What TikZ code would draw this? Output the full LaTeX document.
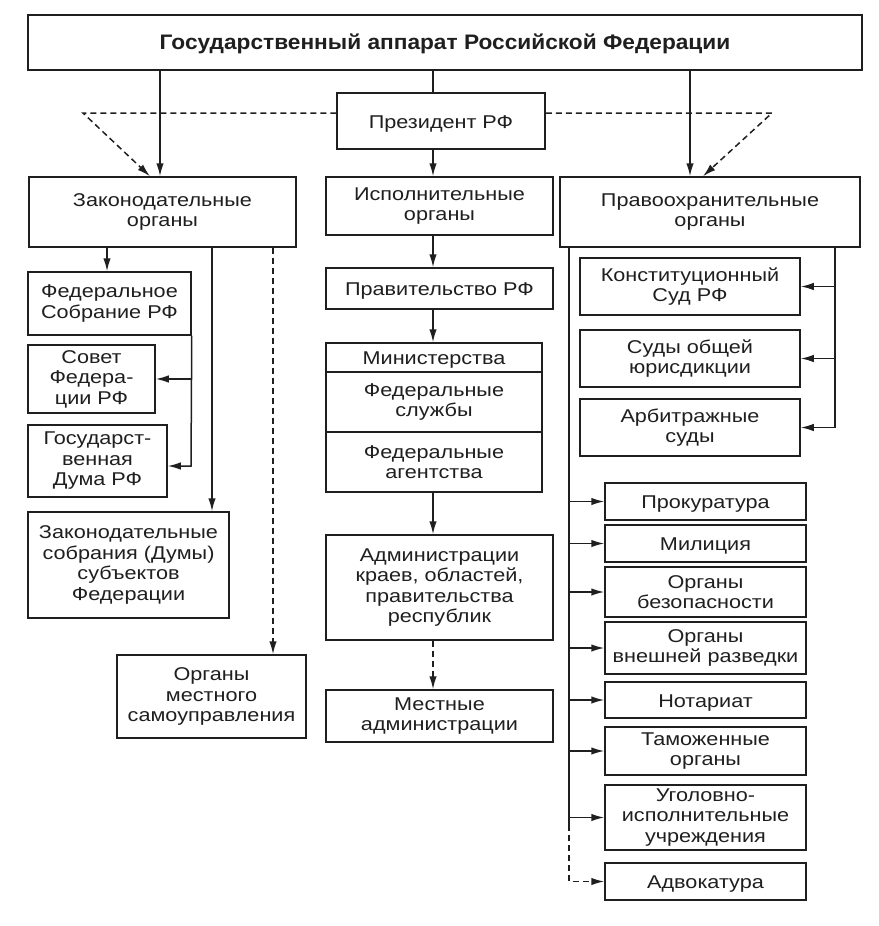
\documentclass[tikz,border=0pt]{standalone}
\usepackage{fontspec}
\setmainfont{Liberation Sans}[FakeStretch=1.17]
\newfontfamily\titlefont{Liberation Sans}[FakeStretch=1.08]
\usetikzlibrary{arrows.meta}
\newcommand\bodysize{\fontsize{18.5}{20.5}\selectfont}
\tikzset{
  box/.style={draw=black!88, line width=1.5pt, inner sep=0pt, align=center, font=\bodysize, text=black!88,
    execute at begin node={\rule{0pt}{18.5pt}}},
  conn/.style={draw=black!88, line width=1.5pt},
  arr/.style={conn, -{Latex[length=13pt,width=7.5pt]}},
  dasharr/.style={conn, dash pattern=on 6pt off 4pt, -{Latex[length=13pt,width=7.5pt]}},
}
\begin{document}
\begin{tikzpicture}[x=1pt,y=-1pt]
\useasboundingbox[fill=white] (0,0) rectangle (878,926);

% top level
\node[box, minimum width=834pt, minimum height=55pt, font=\titlefont\bfseries\fontsize{21}{24}\selectfont] (title) at (445,42.5) {Государственный аппарат Российской Федерации};
\node[box, minimum width=208pt, minimum height=56pt] (pres) at (441,121) {Президент РФ};
\node[box, minimum width=267pt, minimum height=70pt] (legis) at (162.5,212) {Законодательные\\органы};
\node[box, minimum width=227pt, minimum height=58pt] (exec) at (439.5,206) {Исполнительные\\органы};
\node[box, minimum width=300pt, minimum height=70pt] (law) at (710,212) {Правоохранительные\\органы};

% left column
\node[box, minimum width=163pt, minimum height=63pt] (fedsob) at (109.5,303.5) {Федеральное\\Собрание РФ};
\node[box, minimum width=127pt, minimum height=68pt] (sovet) at (91.5,379) {Совет\\Федера-\\ции РФ};
\node[box, minimum width=139pt, minimum height=72pt] (duma) at (97.5,461) {Государст-\\венная\\Дума РФ};
\node[box, minimum width=201pt, minimum height=106pt] (zaksob) at (128.5,565) {Законодательные\\собрания (Думы)\\субъектов\\Федерации};
\node[box, minimum width=189pt, minimum height=83pt] (mestsam) at (211.5,696.5) {Органы\\местного\\самоуправления};

% middle column
\node[box, minimum width=227pt, minimum height=41pt] (prav) at (439.5,288.5) {Правительство РФ};
\node[box, minimum width=216pt, minimum height=29pt] (min1) at (434,357.5) {Министерства};
\node[box, minimum width=216pt, minimum height=60pt] (min2) at (434,402) {Федеральные\\службы};
\node[box, minimum width=216pt, minimum height=60pt] (min3) at (434,462) {Федеральные\\агентства};
\node[box, minimum width=227pt, minimum height=105pt] (adm) at (439.5,587.5) {Администрации\\краев, областей,\\правительства\\республик};
\node[box, minimum width=227pt, minimum height=52pt] (mest) at (439.5,716) {Местные\\администрации};

% right column
\node[box, minimum width=220pt, minimum height=57pt] (ks) at (690,286.5) {Конституционный\\Суд РФ};
\node[box, minimum width=220pt, minimum height=57pt] (sog) at (690,358.5) {Суды общей\\юрисдикции};
\node[box, minimum width=220pt, minimum height=57pt] (arb) at (690,427.5) {Арбитражные\\суды};

\node[box, minimum width=201pt, minimum height=37pt] (prok) at (705.5,501.5) {Прокуратура};
\node[box, minimum width=201pt, minimum height=37pt] (mil) at (705.5,543.5) {Милиция};
\node[box, minimum width=201pt, minimum height=50pt] (bez) at (705.5,592) {Органы\\безопасности};
\node[box, minimum width=201pt, minimum height=52pt] (vr) at (705.5,648) {Органы\\внешней разведки};
\node[box, minimum width=201pt, minimum height=36pt] (notar) at (705.5,700) {Нотариат};
\node[box, minimum width=201pt, minimum height=48pt] (tam) at (705.5,751) {Таможенные\\органы};
\node[box, minimum width=201pt, minimum height=65pt] (ug) at (705.5,817.5) {Уголовно-\\исполнительные\\учреждения};
\node[box, minimum width=201pt, minimum height=37pt] (adv) at (705.5,881.5) {Адвокатура};

% helper coordinates
\coordinate (xl) at (160,0);
\coordinate (xm) at (433,0);
\coordinate (xr) at (690,0);
\coordinate (dl) at (83,113);
\coordinate (dr) at (772,113);
\coordinate (tl) at (150,0);
\coordinate (tr) at (703,0);
\coordinate (xa) at (107,0);
\coordinate (xb) at (212,0);
\coordinate (xc) at (273,0);
\coordinate (j1) at (191,466);
\coordinate (xk) at (835,0);
\coordinate (xp) at (569,0);
\coordinate (jd) at (569,825);
\coordinate (ja) at (569,881.5);

% top connectors
\draw[arr] (xl |- title.south) -- (xl |- legis.north);
\draw[conn] (xm |- title.south) -- (xm |- pres.north);
\draw[arr] (xm |- pres.south) -- (xm |- exec.north);
\draw[arr] (xr |- title.south) -- (xr |- law.north);
\draw[dasharr] (dl -| pres.west) -- (dl) -- (tl |- legis.north);
\draw[dasharr] (dr -| pres.east) -- (dr) -- (tr |- law.north);

% left connectors
\draw[arr] (xa |- legis.south) -- (xa |- fedsob.north);
\draw[arr] (fedsob.south east) -- (j1) -- (j1 -| duma.east);
\draw[arr] (fedsob.south east |- sovet.east) -- (sovet.east);
\draw[arr] (xb |- legis.south) -- (xb |- zaksob.north);
\draw[dasharr] (xc |- legis.south) -- (xc |- mestsam.north);

% middle connectors
\draw[arr] (xm |- exec.south) -- (xm |- prav.north);
\draw[arr] (xm |- prav.south) -- (xm |- min1.north);
\draw[arr] (xm |- min3.south) -- (xm |- adm.north);
\draw[dasharr] (xm |- adm.south) -- (xm |- mest.north);

% right connectors
\draw[conn] (xk |- law.south) -- (xk |- arb.east);
\foreach \n in {ks,sog,arb} \draw[arr] (xk |- \n.east) -- (\n.east);
\draw[conn] (xp |- law.south) -- (jd);
\foreach \n in {prok,mil,bez,vr,notar,tam,ug} \draw[arr] (xp |- \n.west) -- (\n.west);
\draw[dasharr] (jd) -- (ja) -- (adv.west);
\end{tikzpicture}
\end{document}
